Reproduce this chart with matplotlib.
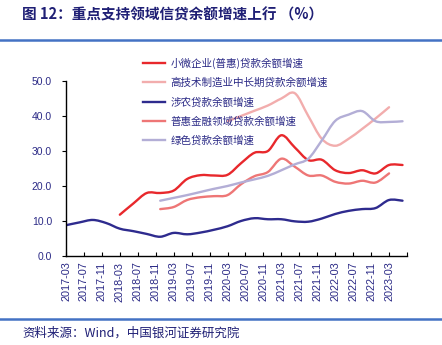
import numpy as np
import matplotlib
matplotlib.use('Agg')
import matplotlib.pyplot as plt
from matplotlib.lines import Line2D
from matplotlib.path import Path
from matplotlib.patches import PathPatch

plt.rcParams['font.family'] = ['Liberation Sans', 'Noto Sans CJK SC']

# quarter-end months, 2017-03 .. 2023-06
quarters = ['2017-03', '2017-06', '2017-09', '2017-12',
            '2018-03', '2018-06', '2018-09', '2018-12',
            '2019-03', '2019-06', '2019-09', '2019-12',
            '2020-03', '2020-06', '2020-09', '2020-12',
            '2021-03', '2021-06', '2021-09', '2021-12',
            '2022-03', '2022-06', '2022-09', '2022-12',
            '2023-03', '2023-06']

# 小微企业(普惠)贷款余额增速, from 2018-03
small_micro = [11.8, 15.0, 18.0, 18.0, 18.7, 22.0, 23.1, 23.0,
               23.2, 26.5, 29.5, 30.0, 34.5, 31.0, 27.4, 27.5,
               24.5, 23.7, 24.5, 23.6, 26.0, 26.0]
# 高技术制造业中长期贷款余额增速, from 2020-03
hitech = [38.5, 40.0, 41.5, 43.0, 45.0, 46.5, 40.0, 33.5,
          31.5, 33.5, 36.3, 39.3, 42.5]
# 涉农贷款余额增速, from 2017-03
agri = [8.8, 9.6, 10.3, 9.4, 7.8, 7.1, 6.3, 5.5,
        6.6, 6.2, 6.7, 7.5, 8.5, 10.0, 10.8, 10.5,
        10.5, 9.9, 9.8, 10.7, 12.0, 12.9, 13.4, 13.7,
        16.0, 15.8]
# 普惠金融领域贷款余额增速, from 2018-12
inclusive = [13.4, 14.0, 16.0, 16.8, 17.1, 17.4, 20.5, 22.8,
             24.0, 27.8, 25.5, 23.0, 23.0, 21.2, 20.7, 21.5,
             21.0, 23.6]
# 绿色贷款余额增速, from 2018-12
green = [15.8, 16.6, 17.4, 18.3, 19.2, 20.0, 21.0, 21.9,
         22.9, 24.5, 26.2, 27.8, 33.0, 38.6, 40.4, 41.4,
         38.5, 38.3, 38.5]

tick_labels = ['2017-03', '2017-07', '2017-11', '2018-03', '2018-07', '2018-11',
               '2019-03', '2019-07', '2019-11', '2020-03', '2020-07', '2020-11',
               '2021-03', '2021-07', '2021-11', '2022-03', '2022-07', '2022-11',
               '2023-03']


def month_index(s):
    y, m = s.split('-')
    return (int(y) - 2017) * 12 + int(m) - 3


def xs_from(start, n):
    i = quarters.index(start)
    return [month_index(q) for q in quarters[i:i + n]]


def smooth_path(x, y):
    # Excel-style smoothed line: bezier segments through the data points
    p = np.column_stack([x, y]).astype(float)
    verts = [p[0]]
    codes = [Path.MOVETO]
    for i in range(len(p) - 1):
        p0 = p[i - 1] if i > 0 else p[i]
        p3 = p[i + 2] if i + 2 < len(p) else p[i + 1]
        c1 = p[i] + (p[i + 1] - p0) / 6
        c2 = p[i + 1] - (p3 - p[i]) / 6
        verts += [c1, c2, p[i + 1]]
        codes += [Path.CURVE4] * 3
    return Path(verts, codes)


navy = '#2b2a86'
series = [
    ('小微企业(普惠)贷款余额增速', '2018-03', small_micro, '#e8282c'),
    ('高技术制造业中长期贷款余额增速', '2020-03', hitech, '#f2adad'),
    ('涉农贷款余额增速', '2017-03', agri, '#2e2b8e'),
    ('普惠金融领域贷款余额增速', '2018-12', inclusive, '#ee7676'),
    ('绿色贷款余额增速', '2018-12', green, '#b3aed6'),
]

fig = plt.figure(figsize=(4.42, 3.45), dpi=100)
ax = fig.add_axes([66 / 442, 89 / 345, 341 / 442, 175 / 345])

handles = []
for name, start, vals, col in series:
    path = smooth_path(xs_from(start, len(vals)), vals)
    ax.add_patch(PathPatch(path, fill=False, edgecolor=col, lw=1.7,
                           capstyle='round', joinstyle='round'))
    handles.append(Line2D([], [], color=col, lw=1.7, label=name))

ax.set_xlim(0, 76)
ax.set_ylim(0, 50)
ax.set_yticks(np.arange(0, 51, 10))
ax.set_yticklabels([f'{v:.1f}' for v in np.arange(0, 51, 10)])
ax.set_xticks([month_index(t) for t in tick_labels] + [76])
ax.set_xticklabels(tick_labels + [''], rotation=90)

for s in ['top', 'right']:
    ax.spines[s].set_visible(False)
for s in ['left', 'bottom']:
    ax.spines[s].set_linewidth(1.0)
    ax.spines[s].set_color('black')
ax.tick_params(axis='x', direction='in', length=3, pad=4, labelsize=7.8,
               labelcolor=navy)
ax.tick_params(axis='y', direction='out', length=3, pad=7, labelsize=7.5,
               labelcolor=navy)

leg = ax.legend(handles=handles, loc='upper left',
                bbox_to_anchor=(138 / 442, 1 - 52 / 345),
                bbox_transform=fig.transFigure, frameon=False,
                handlelength=2.1, handletextpad=0.45, labelspacing=0.85,
                borderpad=0, prop={'family': 'Noto Sans CJK SC', 'size': 7.6})
for t in leg.get_texts():
    t.set_color(navy)

fig.text(22 / 442, 1 - 15 / 345, '图 12：重点支持领域信贷余额增速上行 （%）',
         fontsize=10.5, fontweight='bold', color='#1f1f75', va='center',
         family=['Noto Sans CJK SC', 'DejaVu Sans'])
fig.add_artist(Line2D([0, 1], [1 - 40 / 345] * 2, color='#4472c4', lw=1.8,
                      transform=fig.transFigure))
fig.add_artist(Line2D([0, 1], [1 - 319 / 345] * 2, color='#4472c4', lw=1.8,
                      transform=fig.transFigure))
fig.text(22 / 442, 1 - 333 / 345, '资料来源：Wind，中国银河证券研究院',
         fontsize=9, style='italic', color='#1f1f75', va='center',
         family=['Noto Sans CJK SC', 'DejaVu Sans'])

fig.savefig('out.png', dpi=100)
